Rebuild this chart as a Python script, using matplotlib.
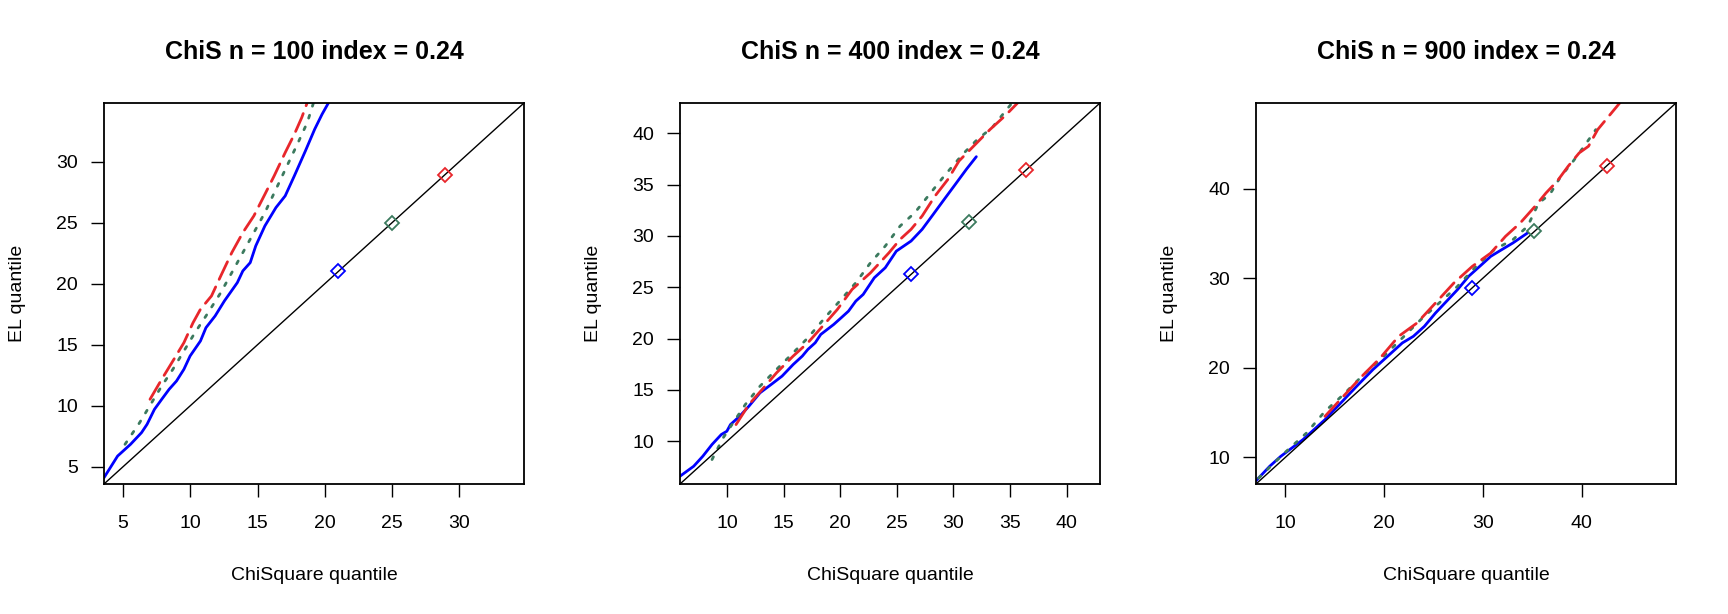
import numpy as np
import matplotlib
matplotlib.use("Agg")
import matplotlib.pyplot as plt

plt.rcParams['font.family'] = ['Liberation Sans', 'DejaVu Sans']

# sample sizes and axis settings
n_values = [100, 400, 900]
lims     = [(3.58, 34.8), (5.83, 42.95), (7.03, 49.55)]
ticks    = [[5, 10, 15, 20, 25, 30], [10, 15, 20, 25, 30, 35, 40], [10, 20, 30, 40]]

# diamonds on the diagonal (blue, green, red)
diam = [[21.0, 25.0, 28.9], [26.27, 31.4, 36.4], [28.92, 35.22, 42.57]]

# n = 100
blue1_x  = [3.58, 4.59, 5.55, 6.37, 6.78, 7.33, 7.87, 8.42, 8.97, 9.52, 9.98, 10.75, 11.16, 11.84, 12.53,
            13.49, 13.90, 14.45, 14.86, 15.54, 16.36, 17.05, 17.73, 18.55, 19.24, 19.79, 20.28, 20.6]
blue1_y  = [4.10, 5.87, 6.83, 7.79, 8.47, 9.70, 10.52, 11.34, 12.02, 12.98, 14.07, 15.30, 16.39, 17.35, 18.58,
            20.08, 21.04, 21.72, 23.09, 24.73, 26.23, 27.19, 28.83, 30.87, 32.65, 33.88, 34.84, 35.6]
green1_x = [5.14, 6.23, 7.05, 7.87, 8.70, 9.52, 10.34, 11.16, 12.26, 13.08, 13.90, 14.72, 15.54, 16.36,
            17.18, 18.01, 18.69, 19.16, 19.4]
green1_y = [6.83, 8.61, 10.11, 11.61, 12.98, 14.48, 15.98, 17.35, 19.26, 20.90, 22.54, 24.18, 25.82, 27.73,
            29.64, 31.56, 33.20, 34.84, 35.6]
red1_x   = [7.00, 7.87, 8.70, 9.52, 10.20, 10.75, 11.57, 12.26, 13.08, 13.90, 14.72, 15.54, 16.23, 17.05,
            17.73, 18.28, 18.69, 18.9]
red1_y   = [10.52, 12.16, 13.66, 15.16, 16.80, 17.90, 18.99, 20.63, 22.54, 24.18, 25.55, 27.32, 28.83, 30.74,
            32.24, 33.61, 34.84, 35.5]

# n = 400
blue2_x  = [5.83, 7.04, 7.85, 8.66, 9.48, 9.97, 10.29, 11.11, 11.92, 12.90, 13.88, 14.85, 15.83, 16.64, 17.13,
            17.78, 18.27, 19.41, 20.07, 20.72, 21.37, 22.02, 23.00, 23.97, 24.95, 26.25, 27.23, 28.21, 29.18,
            30.16, 31.14, 32.02]
blue2_y  = [6.59, 7.56, 8.54, 9.68, 10.65, 10.97, 11.62, 12.44, 13.41, 14.71, 15.52, 16.34, 17.47, 18.29, 18.94,
            19.59, 20.40, 21.37, 22.02, 22.67, 23.65, 24.30, 25.92, 26.90, 28.52, 29.50, 30.64, 32.10, 33.56,
            35.02, 36.49, 37.72]
green2_x = [8.66, 9.64, 10.62, 11.60, 12.90, 14.20, 15.83, 17.13, 18.76, 20.07, 21.37, 22.67, 23.97, 25.28,
            26.58, 27.88, 29.18, 30.81, 32.12, 33.42, 34.72, 35.21]
green2_y = [8.21, 10.32, 11.95, 13.57, 15.36, 16.82, 18.61, 20.07, 22.19, 23.81, 25.44, 27.39, 29.01, 30.96,
            32.26, 34.05, 35.84, 37.95, 39.41, 40.55, 42.34, 42.99]
red2_x   = [10.78, 11.92, 13.22, 14.36, 15.83, 17.13, 18.44, 19.74, 21.04, 22.67, 24.30, 25.28, 26.25, 27.23,
            28.37, 29.51, 30.49, 31.79, 33.25, 34.55, 35.70, 36.0]
red2_y   = [11.62, 13.57, 15.20, 16.66, 18.29, 19.59, 21.21, 22.84, 24.79, 26.41, 28.36, 29.66, 30.64, 31.94,
            33.89, 35.51, 37.30, 38.76, 40.39, 41.69, 42.99, 43.3]

# n = 900
blue3_x  = [7.03, 8.41, 9.53, 10.65, 11.77, 12.89, 14.01, 15.13, 16.25, 17.37, 18.86, 20.35, 21.84, 22.96,
            24.08, 25.20, 26.32, 27.43, 28.56, 29.68, 30.80, 31.92, 33.04, 34.53]
blue3_y  = [7.39, 9.00, 10.11, 11.04, 11.97, 13.09, 14.21, 15.51, 16.81, 18.11, 19.79, 21.28, 22.77, 23.51,
            24.63, 26.11, 27.42, 28.72, 30.21, 31.32, 32.44, 33.19, 33.93, 35.05]
green3_x = [7.29, 9.90, 12.14, 14.01, 15.87, 17.74, 19.60, 21.84, 23.71, 25.57, 27.43, 29.31, 31.17, 33.04,
            34.53, 35.65, 36.77, 37.89, 39.01, 40.13, 41.43]
green3_y = [7.69, 10.48, 12.72, 15.14, 17.00, 19.04, 20.90, 23.32, 25.37, 27.23, 29.09, 31.32, 33.19, 34.30,
            35.79, 38.40, 39.33, 41.37, 42.86, 44.54, 46.58]
red3_x   = [14.01, 15.87, 17.74, 19.60, 21.47, 23.33, 25.20, 27.06, 28.93, 30.80, 32.29, 33.78, 35.28, 36.39,
            37.51, 38.63, 39.75, 40.69, 41.62, 42.74, 43.86, 44.3]
red3_y   = [14.58, 16.81, 19.04, 21.09, 23.51, 25.00, 27.23, 29.46, 31.32, 32.81, 34.67, 36.16, 38.02, 39.51,
            40.81, 42.49, 43.98, 44.72, 46.58, 48.07, 49.56, 50.2]

blue  = [(blue1_x, blue1_y), (blue2_x, blue2_y), (blue3_x, blue3_y)]
green = [(green1_x, green1_y), (green2_x, green2_y), (green3_x, green3_y)]
red   = [(red1_x, red1_y), (red2_x, red2_y), (red3_x, red3_y)]

c_blue  = "#0000FF"
c_green = "#3B7A5E"
c_red   = "#E8262B"

W, H = 1728, 614
fig = plt.figure(figsize=(W/100, H/100), dpi=100)

for k in range(3):
    x0 = (104 + 576*k) / W
    ax = fig.add_axes([x0, (H-484)/H, 420/W, 381/H])
    lo, hi = lims[k]
    ax.plot(*blue[k], color=c_blue, lw=2.0, solid_joinstyle='round', solid_capstyle='round')
    ax.plot(*green[k], color=c_green, lw=2.0, dashes=(1.1, 3.4), dash_capstyle='round')
    ax.plot(*red[k], color=c_red, lw=2.0, dashes=(7, 3), dash_capstyle='round')
    ax.axline((lo, lo), slope=(hi-lo)/(hi-lo), color='black', lw=1.0)
    for v, c in zip(diam[k], [c_blue, c_green, c_red]):
        ax.plot(v, v, 'D', ms=7, mfc='none', mec=c, mew=1.3)
    ax.set_xlim(lo, hi)
    ax.set_ylim(lo, hi)
    ax.set_xticks(ticks[k])
    ax.set_yticks(ticks[k])
    ax.tick_params(axis='both', direction='out', length=9.7, width=1.0, labelsize=14)
    ax.tick_params(axis='x', pad=12.5)
    ax.tick_params(axis='y', pad=9)
    for s in ax.spines.values():
        s.set_linewidth(1.3)
    cx = (104 + 576*k + 210) / W
    fig.text(cx, 1 - 52/H, f"ChiS n = {n_values[k]} index = 0.24", ha='center', va='center',
             fontsize=18, fontweight='bold')
    fig.text(cx, 1 - 575/H, "ChiSquare quantile", ha='center', va='center', fontsize=14)
    fig.text((18 + 576*k) / W, 1 - 293.5/H, "EL quantile", ha='center', va='center',
             rotation=90, fontsize=14)

fig.savefig("out.png", dpi=100)
